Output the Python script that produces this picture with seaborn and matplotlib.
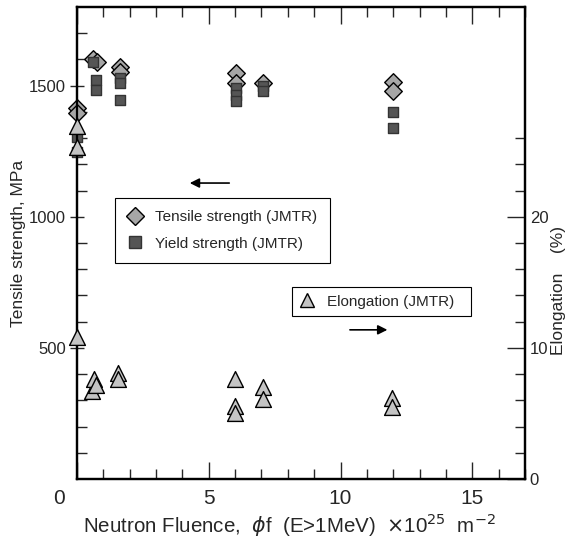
import matplotlib
matplotlib.use('Agg')
import matplotlib.pyplot as plt
import seaborn as sns
from matplotlib.lines import Line2D
from matplotlib.ticker import MultipleLocator, FixedLocator, FuncFormatter

# data
fluence_ts = [0.0, 0.0, 0.62, 0.75, 1.62, 1.62, 6.05, 6.05, 7.05, 12.0, 12.0]
tensile = [1416, 1397, 1600, 1590, 1570, 1553, 1550, 1511, 1510, 1515, 1478]

fluence_ys = [0.0, 0.0, 0.62, 0.72, 0.72, 1.62, 1.62, 1.62, 6.05, 6.05, 6.05, 7.05, 7.05, 12.0, 12.0]
yield_st = [1305, 1246, 1592, 1523, 1485, 1530, 1512, 1447, 1490, 1465, 1440, 1500, 1480, 1400, 1340]

fluence_el = [0.0, 0.0, 0.0, 0.57, 0.65, 0.72, 1.56, 1.56, 6.0, 6.0, 6.0, 7.05, 7.05, 11.95, 11.95]
elongation = [26.9, 25.3, 10.8, 6.7, 7.6, 7.2, 8.1, 7.6, 7.6, 5.6, 5.0, 7.0, 6.1, 6.2, 5.5]

sns.set_style('white')
plt.rcParams['font.family'] = ['Liberation Sans', 'DejaVu Sans']
plt.rcParams['mathtext.fontset'] = 'dejavusans'

fig = plt.figure(figsize=(5.68, 5.38), dpi=100)
ax = fig.add_axes([0.1356, 0.1097, 0.7887, 0.8773])
ax2 = ax.twinx()

sns.scatterplot(x=fluence_ts, y=tensile, marker='D', s=80, color='#a6a6a6',
                edgecolor='black', linewidth=1.0, clip_on=False, zorder=3, ax=ax)
sns.scatterplot(x=fluence_ys, y=yield_st, marker='s', s=60, color='#555555',
                edgecolor='#333333', linewidth=1.0, clip_on=False, zorder=4, ax=ax)
sns.scatterplot(x=fluence_el, y=elongation, marker='^', s=130, color='#c4c4c4',
                edgecolor='black', linewidth=1.0, clip_on=False, zorder=5, ax=ax2)

ax.set_xlim(0, 17)
ax.set_ylim(0, 1800)
ax2.set_ylim(0, 36)

# ticks
ax.xaxis.set_major_locator(MultipleLocator(5))
ax.xaxis.set_minor_locator(MultipleLocator(1))
# the "0" under the origin is written a bit to the left, done below
ax.xaxis.set_major_formatter(FuncFormatter(lambda v, p: '' if v == 0 else f'{v:g}'))
ax.yaxis.set_major_locator(FixedLocator([500, 1000, 1500]))
ax.yaxis.set_minor_locator(FixedLocator(range(100, 1800, 100)))
ax2.yaxis.set_major_locator(FixedLocator([0, 10, 20]))
ax2.yaxis.set_minor_locator(FixedLocator(range(0, 28, 2)))

ax.tick_params(axis='x', which='both', direction='in', top=True, bottom=True)
ax.tick_params(axis='x', which='major', length=12, width=1, labelsize=15, pad=7)
ax.tick_params(axis='x', which='minor', length=7, width=1)
ax.tick_params(axis='y', which='major', direction='inout', length=10, width=1, labelsize=12, pad=3, left=True, right=False)
ax.tick_params(axis='y', which='minor', direction='in', length=7, width=1, left=True, right=False)
ax2.tick_params(axis='y', which='major', direction='in', length=13, width=1, labelsize=12, right=True, left=False)
ax2.tick_params(axis='y', which='minor', direction='in', length=7, width=1, right=True, left=False)

ax.annotate('0', xy=(0, 0), xycoords=('data', 'axes fraction'), xytext=(-13, -7),
            textcoords='offset points', ha='center', va='top', fontsize=15)

for a in (ax, ax2):
    for sp in a.spines.values():
        sp.set_linewidth(1.6)
        sp.set_color('black')

ax.set_xlabel(r'Neutron Fluence,  $\phi$f  (E>1MeV)  $\times$10$^{25}$  m$^{-2}$', fontsize=14.8)
ax.xaxis.set_label_coords(0.475, -0.068)
ax.set_ylabel('Tensile strength, MPa', fontsize=12.5)
ax.yaxis.set_label_coords(-0.115, 0.5)
ax2.set_ylabel('Elongation    (%)', fontsize=12.5, rotation=90)
ax2.yaxis.set_label_coords(1.058, 0.40)

# legends
h1 = [Line2D([], [], marker='D', linestyle='', markersize=9, markerfacecolor='#a6a6a6',
             markeredgecolor='black', label='Tensile strength (JMTR)'),
      Line2D([], [], marker='s', linestyle='', markersize=8, markerfacecolor='#555555',
             markeredgecolor='#333333', label='Yield strength (JMTR)')]
leg1 = ax.legend(handles=h1, loc='upper left', bbox_to_anchor=(0.085, 0.595, 0.48, 0.0),
                 mode='expand', borderaxespad=0, fontsize=11, frameon=True, fancybox=False,
                 edgecolor='black', framealpha=1, borderpad=0.8, labelspacing=0.8,
                 handlelength=1.0, handletextpad=0.8)
leg1.get_frame().set_linewidth(0.8)

h2 = [Line2D([], [], marker='^', linestyle='', markersize=10, markerfacecolor='#c4c4c4',
             markeredgecolor='black', label='Elongation (JMTR)')]
leg2 = ax2.legend(handles=h2, loc='upper left', bbox_to_anchor=(0.48, 0.407, 0.4, 0.0),
                  mode='expand', borderaxespad=0, fontsize=11, frameon=True, fancybox=False,
                  edgecolor='black', framealpha=1, borderpad=0.5,
                  handlelength=1.0, handletextpad=0.8)
leg2.get_frame().set_linewidth(0.8)

# direction arrows
ax.annotate('', xy=(0.2455, 0.627), xytext=(0.346, 0.627), xycoords='axes fraction',
            arrowprops=dict(arrowstyle='-|>', color='black', lw=1.2, mutation_scale=14))
ax.annotate('', xy=(0.699, 0.316), xytext=(0.603, 0.316), xycoords='axes fraction',
            arrowprops=dict(arrowstyle='-|>', color='black', lw=1.2, mutation_scale=14))

plt.savefig('out.png', dpi=100)
plt.close()
